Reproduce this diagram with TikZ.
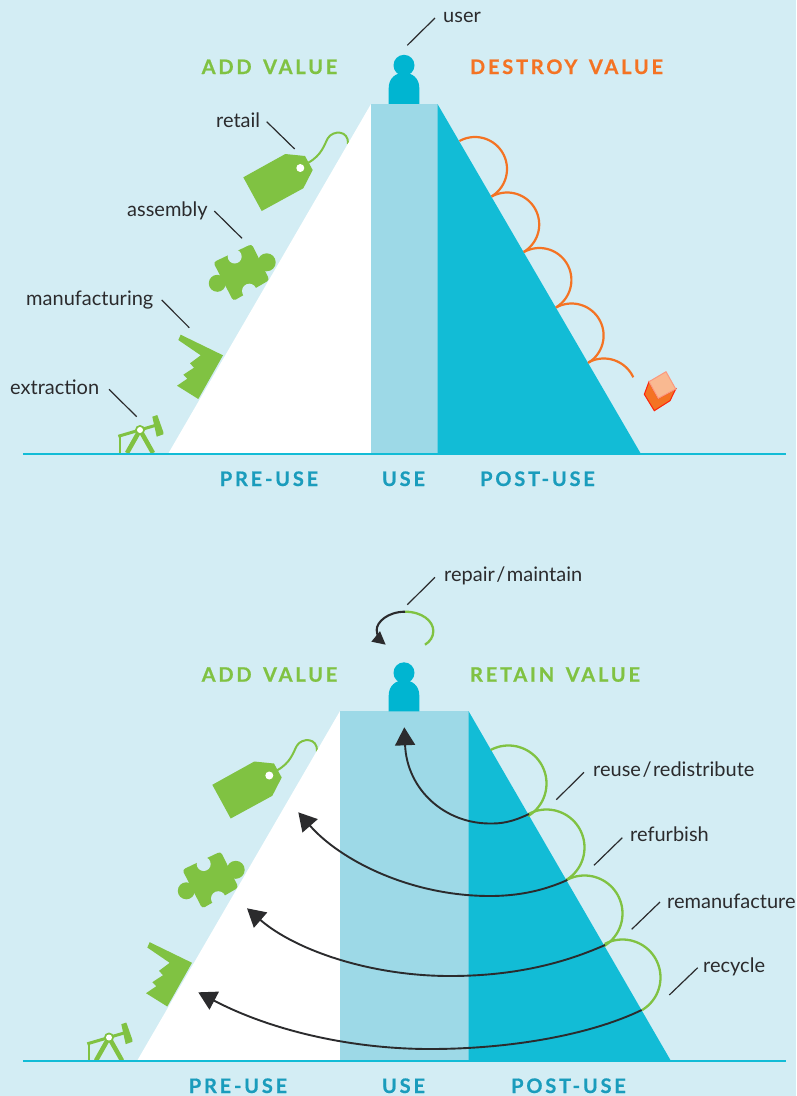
\documentclass[tikz,border=0pt]{standalone}
\usepackage{fontspec}
\setmainfont{Lato}
\newfontfamily\hdfont[LetterSpace=14,WordSpace=1.5,FakeBold=0.6]{Lato}
\usetikzlibrary{arrows.meta}
\definecolor{bgc}{HTML}{D3EDF4}
\definecolor{usec}{HTML}{9DD9E7}
\definecolor{tealc}{HTML}{12BCD6}
\definecolor{personc}{HTML}{00B5D1}
\definecolor{greenc}{HTML}{80C242}
\definecolor{orangec}{HTML}{F47323}
\definecolor{stagec}{HTML}{1A9CBC}
\definecolor{inkc}{HTML}{2B2B2D}
\newcommand{\slsh}{\kern1.5pt/\kern1.5pt}
\tikzset{
  lbl/.style={anchor=base west,inner sep=0pt,yshift=-0.8pt,text=inkc,font=\fontsize{20}{22}\selectfont},
  hd/.style={anchor=base,inner sep=0pt,font=\hdfont\bfseries\fontsize{20}{22}\selectfont},
  leader/.style={draw=inkc,line width=1.2pt},
  ground/.style={draw=tealc,line width=1.6pt},
  greenarc/.style={draw=greenc,line width=2.3pt},
  orangearc/.style={draw=orangec,line width=2.2pt},
  flow/.style={draw=inkc,line width=1.9pt,-{Triangle[length=18pt,width=20pt]}},
}
\newcommand{\circarc}[6]{\draw[#1] plot[domain=#5:#6,samples=45,smooth] ({#2+#4*cos(\x)},{#3+#4*sin(\x)});}
\newcommand{\iconset}{%
  % price tag
  \fill[greenc] (243.3,177.3)--(285.3,154)--(305,156)--(312.7,170)--(303.3,188.3)--(261.7,211)--cycle;
  \fill[white] (300.3,168) circle[radius=4];
  \draw[greenc,line width=2pt] (308.3,162.7) .. controls (322,155) and (324,145) .. (328,138) .. controls (333,130) and (349,130) .. (348,144);
  % puzzle piece
  \fill[greenc,rounded corners=3pt] (213.3,262.3)--(251.7,244)--(269.5,280)--(233.3,301)--cycle;
  \fill[greenc] (266.7,262.3) circle[radius=9];
  \fill[greenc] (217.3,283.3) circle[radius=8.5];
  \fill[bgc] (234.7,256.5) circle[radius=7];
  \fill[bgc] (249.3,291) circle[radius=7.3];
  % factory
  \fill[greenc] (180.7,334.7)--(223,355.3)--(198.3,399)--(177,385.7)--(187.3,378.7)--(183.3,374.7)--(194,367.7)--(190,363.3)--(200.7,355.3)--(178.3,340)--cycle;
  % pump jack
  \draw[greenc,line width=4.5pt] (140,430)--(127,453);
  \draw[greenc,line width=4.5pt] (140,430)--(153,453);
  \draw[greenc,line width=3pt] (118.3,436.3)--(156.7,425);
  \draw[greenc,line width=1.5pt] (120,436.7)--(120,453);
  \fill[greenc] (152.3,416.7)--(157.3,415)--(163.3,432)--(163.3,434.3)--(156.7,436.7)--cycle;
  \fill[greenc] (140,430) circle[radius=5];
  \fill[white] (140,430) circle[radius=3];
}
\newcommand{\personfig}{%
  \fill[personc] (404,65.3) circle[radius=10.5];
  \fill[personc] (388.7,103.8)--(388.7,88) .. controls (388.7,78) and (396,72.7) .. (404,72.7) .. controls (412,72.7) and (419.3,78) .. (419.3,88)--(419.3,103.8)--cycle;
}
\begin{document}
\begin{tikzpicture}[x=1pt,y=-1pt]
\fill[bgc] (0,0) rectangle (796,1096);
\useasboundingbox (0,0) rectangle (796,1096);

% ===== top diagram =====
\iconset
\fill[white] (168,454)--(371,104)--(371,454)--cycle;
\fill[usec] (371,104) rectangle (437.5,454);
\fill[tealc] (437.5,104)--(641,454)--(437.5,454)--cycle;
\personfig
\circarc{orangearc}{475}{169}{32}{-119}{59}
\circarc{orangearc}{507.2}{224.5}{32}{-119}{59}
\circarc{orangearc}{539.4}{280}{32}{-119}{59}
\circarc{orangearc}{571.6}{335.5}{32}{-119}{59}
\circarc{orangearc}{603.8}{391}{32.5}{-118}{-25}
% waste cube
\fill[orangec,draw=red!70!orangec,line width=1pt] (649,381.7)--(644.3,394.3)--(654.3,410.7)--(670,400.7)--(675.7,389)--(658.3,398.3)--cycle;
\fill[orangec!50!white,draw=red!40!orangec!55!white,line width=1pt] (649,381.7)--(666,371.7)--(675.7,389)--(658.3,398.3)--cycle;

\coordinate (gA) at (23,454); \coordinate (gB) at (786,454);
\draw[ground] (gA)--(gB);

\node[hd,text=greenc] (addT) at (269.5,74) {ADD VALUE};
\node[hd,text=orangec] (destroyT) at (566.5,74) {DESTROY VALUE};
\node[hd,text=stagec] (preT) at (269,486) {PRE-USE};
\node[hd,text=stagec] (useT) at (403.5,486) {USE};
\node[hd,text=stagec] (postT) at (537.5,486) {POST-USE};

\node[lbl] (user) at (443,21.7) {user};
\node[lbl] (retail) at (216,126.7) {retail};
\node[lbl] (assembly) at (127,215.7) {assembly};
\node[lbl] (manuf) at (26,305) {manufacturing};
\node[lbl] (extract) at (10,393.3) {extraction};
\coordinate (l1a) at (435,18);      \coordinate (l1b) at (407.3,45.3);
\coordinate (l2a) at (266.7,121.7); \coordinate (l2b) at (294.7,149);
\coordinate (l3a) at (214.3,211);   \coordinate (l3b) at (242,238.3);
\coordinate (l4a) at (161.7,300);   \coordinate (l4b) at (189.3,327.7);
\coordinate (l5a) at (109,389.3);   \coordinate (l5b) at (136.7,416.7);
\draw[leader] (l1a)--(l1b);
\draw[leader] (l2a)--(l2b);
\draw[leader] (l3a)--(l3b);
\draw[leader] (l4a)--(l4b);
\draw[leader] (l5a)--(l5b);

% ===== bottom diagram =====
\begin{scope}[shift={(-31,607.5)}]
\iconset
\end{scope}
\fill[white] (137,1061)--(340,711)--(340,1061)--cycle;
\fill[usec] (340,711) rectangle (468.5,1061);
\fill[tealc] (468.5,711)--(671,1061)--(468.5,1061)--cycle;
\begin{scope}[yshift=-607.5pt]
\personfig
\end{scope}

\circarc{greenarc}{508.5}{783.5}{38}{-118}{59}
\circarc{greenarc}{546.5}{847.5}{38}{-118}{59}
\circarc{greenarc}{584.5}{913.5}{38}{-118}{59}
\circarc{greenarc}{622.5}{977.5}{38}{-118}{59}

% repair loop
\coordinate (rpTop) at (405,611.7);
\coordinate (rpEnd) at (425,644.7);
\coordinate (rpTip) at (385.7,644.7);
\draw[greenarc] (rpTop) .. controls (422,611.7) and (433.3,621) .. (433.3,631) .. controls (433.3,637) and (430,641.5) .. (rpEnd);
\draw[draw=inkc,line width=2.1pt,-{Triangle[length=13pt,width=13pt]}] (rpTop) .. controls (388,611.7) and (376.5,622) .. (376.7,630) .. controls (377,635) and (380,640) .. (rpTip);

% return flows
\coordinate (f1s) at (529,814);     \coordinate (f1e) at (404.3,727.3);
\coordinate (f2s) at (567.3,880);   \coordinate (f2e) at (298.3,812.3);
\coordinate (f3s) at (605,945);     \coordinate (f3e) at (247,908.3);
\coordinate (f4s) at (641.7,1010);  \coordinate (f4e) at (198.3,992.3);
\draw[flow] (f1s) .. controls (510,823) and (500,823.5) .. (490,823.5) .. controls (445,823.5) and (407,790) .. (f1e);
\draw[flow] (f2s) .. controls (545,890) and (520,896) .. (490,896) .. controls (410,896) and (340,860) .. (f2e);
\draw[flow] (f3s) .. controls (560,965) and (510,976) .. (450,976) .. controls (370,976) and (295,950) .. (f3e);
\draw[flow] (f4s) .. controls (590,1035) and (510,1049) .. (430,1049) .. controls (350,1049) and (270,1030) .. (f4e);

\coordinate (hA) at (23,1061); \coordinate (hB) at (786,1061);
\draw[ground] (hA)--(hB);

\node[hd,text=greenc] (addB) at (269.5,681.7) {ADD VALUE};
\node[hd,text=greenc] (retainB) at (555,681.7) {RETAIN VALUE};
\node[hd,text=stagec] (preB) at (238,1093) {PRE-USE};
\node[hd,text=stagec] (useB) at (403.5,1093) {USE};
\node[hd,text=stagec] (postB) at (568.5,1093) {POST-USE};

\node[lbl] (repair) at (444,581) {repair\slsh maintain};
\node[lbl] (reuse) at (593,776) {reuse\slsh redistribute};
\node[lbl] (refurb) at (630,841) {refurbish};
\node[lbl] (reman) at (667,907.3) {remanufacture};
\node[lbl] (recyc) at (703,971.7) {recycle};
\coordinate (m1a) at (435,577.3);   \coordinate (m1b) at (407.3,604.7);
\coordinate (m2a) at (584,772.3);   \coordinate (m2b) at (556.3,799.7);
\coordinate (m3a) at (622.3,837.7); \coordinate (m3b) at (594,865.3);
\coordinate (m4a) at (660,902);     \coordinate (m4b) at (631.7,929.3);
\coordinate (m5a) at (697.7,967.7); \coordinate (m5b) at (669.3,995);
\draw[leader] (m1a)--(m1b);
\draw[leader] (m2a)--(m2b);
\draw[leader] (m3a)--(m3b);
\draw[leader] (m4a)--(m4b);
\draw[leader] (m5a)--(m5b);
\end{tikzpicture}
\end{document}
